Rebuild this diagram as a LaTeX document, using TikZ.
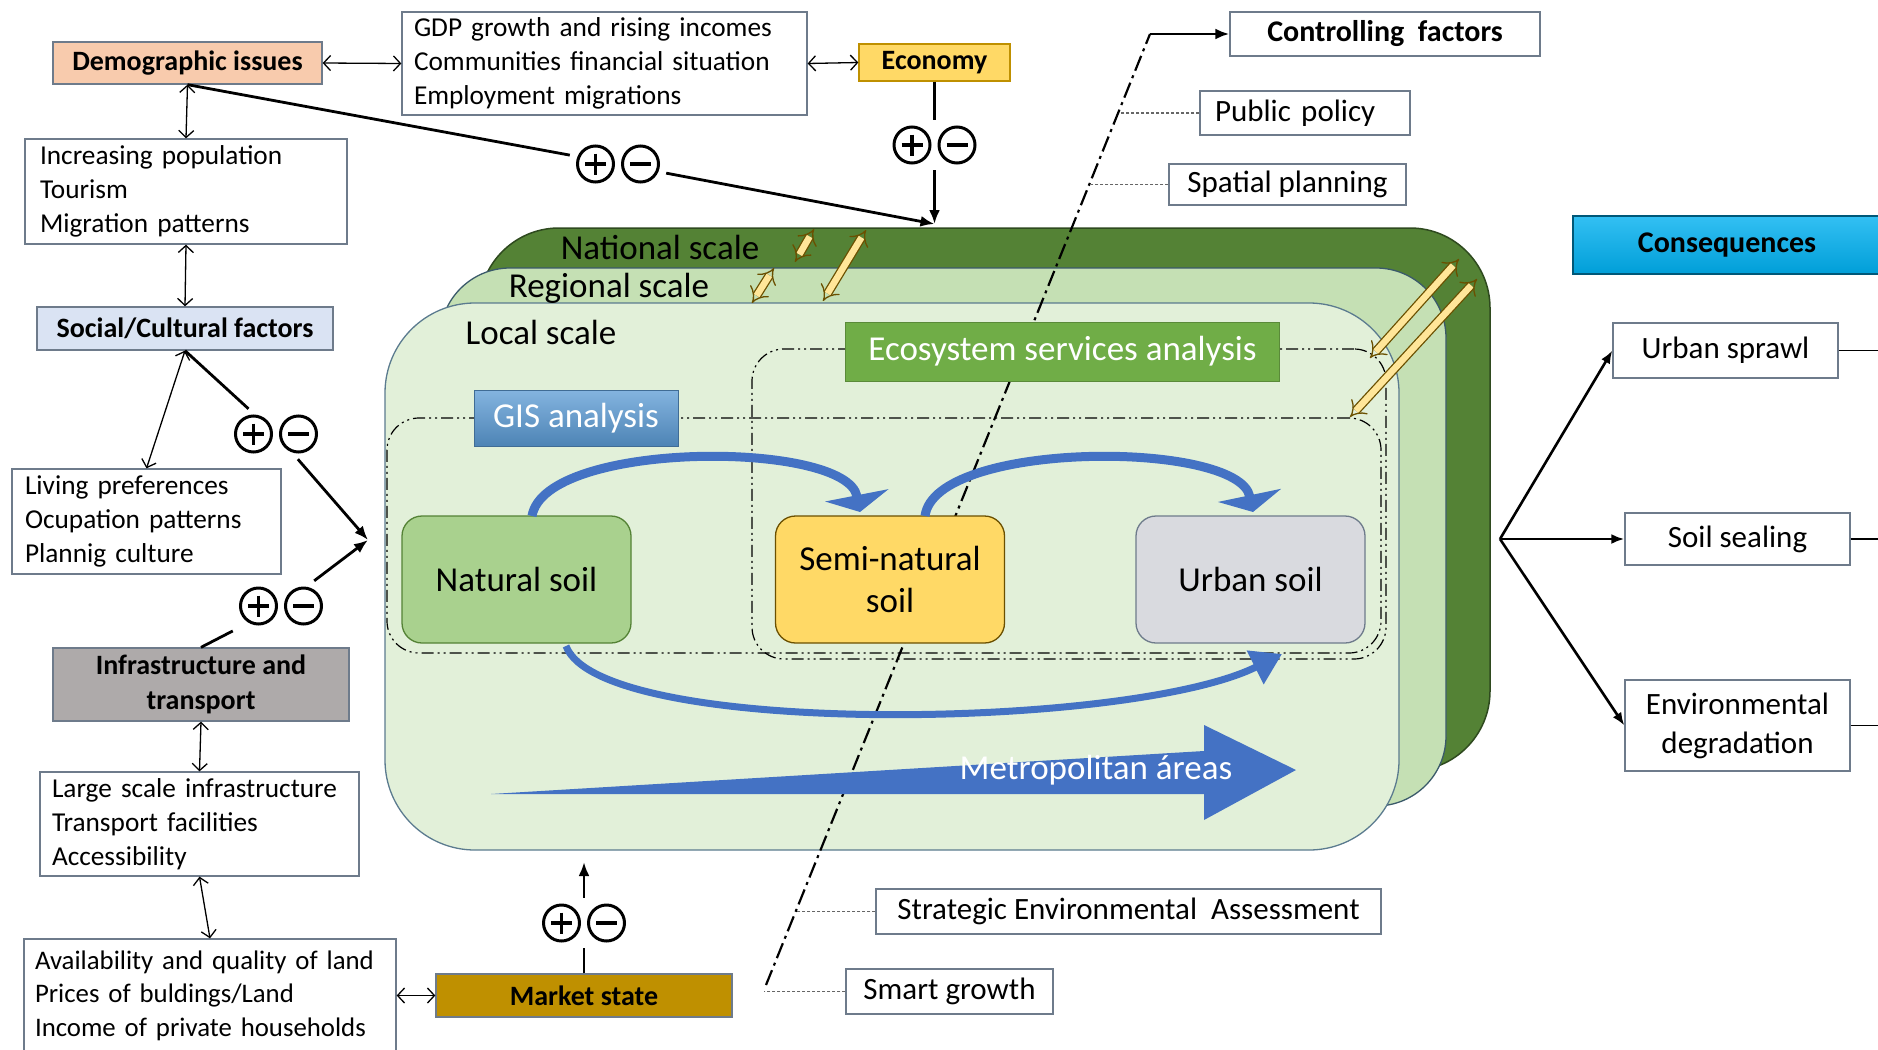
\documentclass[tikz,border=0pt]{standalone}
\usepackage{fontspec}
\setmainfont{Carlito}
\usetikzlibrary{arrows.meta}
\definecolor{demoC}{HTML}{F8CBAD}
\definecolor{econC}{HTML}{FFD966}
\definecolor{socC}{HTML}{DAE3F3}
\definecolor{infC}{HTML}{AEAAAA}
\definecolor{mktC}{HTML}{BF9000}
\definecolor{consC}{HTML}{00B0F0}
\definecolor{natC}{HTML}{548235}
\definecolor{natB}{HTML}{2F4A1F}
\definecolor{regC}{HTML}{C5E0B4}
\definecolor{regB}{HTML}{3A5A6A}
\definecolor{locC}{HTML}{E2F0D9}
\definecolor{locB}{HTML}{5B7B8F}
\definecolor{gisC}{HTML}{5B9BD5}
\definecolor{ecoC}{HTML}{70AD47}
\definecolor{nsC}{HTML}{A9D18E}
\definecolor{ssC}{HTML}{FFD966}
\definecolor{usC}{HTML}{D9DADF}
\definecolor{arcC}{HTML}{4472C4}
\definecolor{ylwC}{HTML}{FFE699}
\definecolor{ylwB}{HTML}{6B5000}
\definecolor{boxB}{HTML}{6E7B8B}
\tikzset{
  pmpair/.pic={
    \draw[line width=3pt] (-22.5,0) circle[radius=18];
    \draw[line width=3pt] (22.5,0) circle[radius=18];
    \draw[line width=3.2pt] (-33,0) -- (-12,0) (-22.5,-10.5) -- (-22.5,10.5);
    \draw[line width=3.2pt] (12,0) -- (33,0);
  }
}
\begin{document}
\begin{tikzpicture}[x=1pt,y=-1pt,
  txt/.style={font=\fontsize{27.3}{34}\selectfont},
  txtR/.style={font=\fontsize{31}{39}\selectfont},
  bld/.style={font=\fontsize{28}{35}\selectfont\bfseries},
  big/.style={font=\fontsize{35}{42}\selectfont},
  tbox/.style={draw=boxB, line width=1.3pt, fill=white, inner sep=0pt, align=left},
  cbox/.style={draw=boxB, line width=1.3pt, inner sep=0pt, align=center},
  thinarr/.style={line width=1.3pt, {Straight Barb[length=7pt,width=15pt]}-{Straight Barb[length=7pt,width=15pt]}},
  thickln/.style={line width=2.8pt},
  thickarr/.style={line width=2.8pt, -{Latex[length=14pt,width=11pt]}},
  fanarr/.style={line width=2.6pt, -{Latex[length=13pt,width=10pt]}},
  pmn/.style={minimum width=96pt, minimum height=50pt, inner sep=0pt},
  yarr/.style={draw=ylwB, line width=1.3pt, double=ylwC, double distance=6.5pt, {Implies}-{Implies}},
  blarc/.style={draw=arcC, line width=9pt, -{Triangle[width=64pt,length=17pt]}},
  dregion/.style={draw=black, line width=1.2pt, rounded corners=32pt, dash pattern=on 12pt off 4pt on 2pt off 4pt on 2pt off 4pt, inner sep=0pt},
  dotcon/.style={draw=black!60, line width=1.3pt, dash pattern=on 3pt off 2pt},
  soil/.style={draw, line width=1.3pt, rounded corners=20pt, minimum width=229pt, minimum height=127pt, inner sep=0pt, align=center, big}
]
\useasboundingbox (0,0) rectangle (1878,1049);
\fill[white] (0,0) rectangle (1878,1049);

% ---------- scale boxes ----------
\node[draw=natB, fill=natC, line width=1.5pt, rounded corners=80pt, minimum width=1011pt, minimum height=543pt, inner sep=0pt] (national) at (984.5,499.5) {};
\node[draw=regB, fill=regC, line width=1.3pt, rounded corners=70pt, minimum width=1006pt, minimum height=538pt, inner sep=0pt] (regional) at (943,537) {};
\node[draw=locB, fill=locC, line width=1.3pt, rounded corners=90pt, minimum width=1014pt, minimum height=547pt, inner sep=0pt] (local) at (892,576.5) {};
\node[big] (natL) at (660,247) {National scale};
\node[big] (regL) at (609,288) {Regional scale};
\node[big] (locL) at (541,332) {Local scale};

% ---------- controlling factors line ----------
\coordinate (cfBot) at (766,985);
\coordinate (cfTop) at (1150,34);
\draw[line width=2.2pt, dash pattern=on 16pt off 5pt on 3pt off 5pt] (cfBot) -- (cfTop);

% ---------- analysis regions ----------
\node[dregion, minimum width=634pt, minimum height=310pt] (ecoR) at (1069,504) {};
\node[dregion, minimum width=994pt, minimum height=235pt] (gisR) at (884,535.5) {};
\node[fill=ecoC, draw=ecoC!80!black, line width=1pt, text=white, big, minimum width=434pt, minimum height=59pt, inner sep=0pt] (ecoL) at (1062.5,351.5) {Ecosystem services analysis};
\node[top color=gisC!75!white, bottom color=gisC!85!black, draw=gisC!70!black, line width=1pt, text=white, big, minimum width=204pt, minimum height=56pt, inner sep=0pt] (gisL) at (576,418) {GIS analysis};

% ---------- soils ----------
\node[soil, fill=nsC, draw=natC] (ns) at (516.5,579.5) {Natural soil};
\node[soil, fill=ssC, draw=ylwB] (ss) at (890,579.5) {Semi-natural\\soil};
\node[soil, fill=usC, draw=boxB] (us) at (1250.5,579.5) {Urban soil};

% ---------- blue arcs ----------
\coordinate (a1s) at (532,516);
\coordinate (a1e) at (860,512);
\coordinate (a2s) at (925,516);
\coordinate (a2e) at (1253,512);
\coordinate (a3s) at (566,646);
\coordinate (a3e) at (1282,654);
\draw[blarc] (a1s) .. controls (545,440) and (846,440) .. (a1e);
\draw[blarc] (a2s) .. controls (935,440) and (1238,440) .. (a2e);
\draw[draw=arcC, line width=7pt, -{Triangle[width=36pt,length=30pt]}] (a3s) .. controls (600,738) and (1130,730) .. (a3e);

% ---------- metropolitan arrow ----------
\fill[arcC] (491,794) -- (1204,751) -- (1204,725) -- (1296,770) -- (1204,820) -- (1204,794) -- cycle;
\node[big, text=white] (metro) at (1096,770) {Metropolitan áreas};

% ---------- yellow arrows ----------
\coordinate (y1a) at (795,262); \coordinate (y1b) at (814,229);
\coordinate (y2a) at (823,301); \coordinate (y2b) at (866,230);
\coordinate (y3a) at (752,303); \coordinate (y3b) at (774,268);
\coordinate (y4a) at (1370,358); \coordinate (y4b) at (1459,259);
\coordinate (y5a) at (1350,417); \coordinate (y5b) at (1477,279);
\draw[yarr] (y1a) -- (y1b);
\draw[yarr] (y2a) -- (y2b);
\draw[yarr] (y3a) -- (y3b);
\draw[yarr] (y4a) -- (y4b);
\draw[yarr] (y5a) -- (y5b);

% ---------- left column ----------
\node[cbox, bld, fill=demoC, minimum width=269pt, minimum height=42pt] (demo) at (187.5,63) {Demographic issues};
\node[tbox, txt, text width=381pt, inner xsep=12pt, minimum height=103pt] (gdp) at (604.5,63.5) {GDP growth and rising incomes\\Communities financial situation\\Employment migrations};
\node[cbox, bld, fill=econC, draw=mktC, minimum width=151pt, minimum height=37pt] (econ) at (934.5,62.5) {Economy};
\node[tbox, txt, text width=292pt, inner xsep=15pt, minimum height=105pt] (incpop) at (186,191.5) {Increasing population\\Tourism\\Migration patterns};
\node[cbox, bld, fill=socC, draw=boxB, minimum width=296pt, minimum height=43pt] (social) at (185,328.5) {Social/Cultural factors};
\node[tbox, txt, text width=243pt, inner xsep=13pt, minimum height=105pt] (living) at (146.5,521.5) {Living preferences\\Ocupation patterns\\Plannig culture};
\node[cbox, bld, fill=infC, minimum width=296pt, minimum height=73pt] (infra) at (201,684.5) {Infrastructure and\\transport};
\node[tbox, txt, text width=295pt, inner xsep=12pt, minimum height=104pt] (large) at (199.5,824) {Large scale infrastructure\\Transport facilities\\Accessibility};
\node[tbox, font=\fontsize{26.8}{33.5}\selectfont, text width=350pt, inner xsep=11pt, minimum height=113pt] (avail) at (210,995.5) {Availability and quality of land\\Prices of buldings/Land\\Income of private households};
\node[cbox, bld, fill=mktC, minimum width=296pt, minimum height=43pt] (market) at (584,995.5) {Market state};

% ---------- plus/minus ----------
\node[pmn] (pm1) at (618,164) {};
\node[pmn] (pm2) at (934.5,145) {};
\node[pmn] (pm3) at (276,434) {};
\node[pmn] (pm4) at (281,606) {};
\node[pmn] (pm5) at (584,923) {};
\pic at (pm1) {pmpair};
\pic at (pm2) {pmpair};
\pic at (pm3) {pmpair};
\pic at (pm4) {pmpair};
\pic at (pm5) {pmpair};

\coordinate (natTop) at (934.5,224);
\coordinate (inL) at (368,540);
\coordinate (inB) at (584,862);

\draw[thickln] (demo.south) -- (pm1);
\draw[thickarr] (pm1) -- (natTop);
\draw[thickln] (econ.south) -- (pm2);
\draw[thickarr] (pm2) -- (natTop);
\draw[thickln] (social.south) -- (pm3);
\draw[thickarr] (pm3) -- (inL);
\draw[thickln] (infra.north) -- (pm4);
\draw[thickarr] (pm4) -- (inL);
\draw[thickln] (market.north) -- (pm5);
\draw[thickarr] (pm5) -- (inB);

\draw[thinarr] (demo.east) -- (gdp.west);
\draw[thinarr] (gdp.east) -- (econ.west);
\draw[thinarr] (demo.south) -- (incpop.north);
\draw[thinarr] (incpop.south) -- (social.north);
\draw[thinarr] (social.south) -- (living.north);
\draw[thinarr] (infra.south) -- (large.north);
\draw[thinarr] (large.south) -- (avail.north);
\draw[thinarr] (avail.east) -- (market.west);

% ---------- controlling factors ----------
\node[cbox, fill=white, font=\fontsize{30}{35}\selectfont\bfseries, minimum width=310pt, minimum height=44pt] (ctrl) at (1385,34) {Controlling\ \ factors};
\draw[thickarr] (cfTop) -- (ctrl.west);
\node[tbox, txtR, text width=180pt, inner xsep=15pt, minimum height=44pt] (pubpol) at (1305,113) {Public policy};
\node[cbox, txtR, fill=white, minimum width=237pt, minimum height=41pt] (spatial) at (1287.5,184.5) {Spatial planning};
\node[cbox, txtR, fill=white, minimum width=505pt, minimum height=45pt] (sea) at (1128.5,911.5) {Strategic Environmental\ \ Assessment};
\node[cbox, txtR, fill=white, minimum width=207pt, minimum height=45pt] (smart) at (949.5,991.5) {Smart growth};
\coordinate (cf1) at (1120,113);
\coordinate (cf2) at (1091,184.5);
\coordinate (cf3) at (797,911.5);
\coordinate (cf4) at (764,991.5);
\draw[dotcon] (pubpol.west) -- (cf1);
\draw[dotcon] (spatial.west) -- (cf2);
\draw[dotcon] (sea.west) -- (cf3);
\draw[dotcon] (smart.west) -- (cf4);

% ---------- consequences ----------
\node[cbox, font=\fontsize{30}{35}\selectfont\bfseries, top color=consC!80!white, bottom color=consC!90!black, draw=consC!50!black, line width=1.5pt, minimum width=308pt, minimum height=58pt] (conseq) at (1727,245) {Consequences};
\node[cbox, txtR, fill=white, minimum width=225pt, minimum height=55pt] (sprawl) at (1725.5,350.5) {Urban sprawl};
\node[cbox, txtR, fill=white, minimum width=225pt, minimum height=52pt] (sealing) at (1737.5,539) {Soil sealing};
\node[cbox, txtR, fill=white, minimum width=225pt, minimum height=91pt] (envdeg) at (1737.5,725.5) {Environmental\\degradation};
\coordinate (fan) at (1500,539);
\draw[fanarr] (fan) -- (sprawl.west);
\draw[fanarr] (fan) -- (sealing.west);
\draw[fanarr] (fan) -- (envdeg.west);
\coordinate (r1) at (1878,350.5);
\coordinate (r2) at (1878,539);
\coordinate (r3) at (1878,725.5);
\draw[line width=1.3pt] (sprawl.east) -- (r1);
\draw[line width=1.3pt] (sealing.east) -- (r2);
\draw[line width=1.3pt] (envdeg.east) -- (r3);
\end{tikzpicture}
\end{document}
